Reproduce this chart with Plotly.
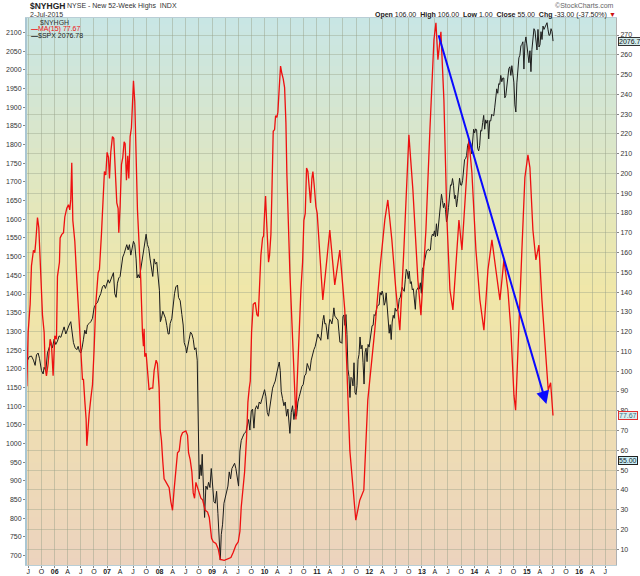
import pandas as pd
import plotly.graph_objects as go

# ---------------- data ----------------
# $SPX (black line, left axis) 2005-07 .. 2011-01, x as decimal years
spx_year_a = [
    2005.468, 2005.513, 2005.557, 2005.595, 2005.627, 2005.653, 2005.684, 2005.710, 2005.748, 2005.780,
    2005.799, 2005.831, 2005.862, 2005.894, 2005.926, 2005.958, 2005.989, 2006.021, 2006.053, 2006.085,
    2006.117, 2006.148, 2006.180, 2006.212, 2006.244, 2006.276, 2006.307, 2006.333, 2006.358, 2006.390,
    2006.422, 2006.447, 2006.473, 2006.498, 2006.523, 2006.549, 2006.574, 2006.600, 2006.625, 2006.657,
    2006.689, 2006.721, 2006.752, 2006.784, 2006.816, 2006.848, 2006.879, 2006.911, 2006.943, 2006.968,
    2006.994, 2007.019, 2007.045, 2007.070, 2007.096, 2007.121, 2007.146, 2007.172, 2007.197, 2007.223,
    2007.248, 2007.274, 2007.299, 2007.325, 2007.350, 2007.375, 2007.401, 2007.426, 2007.452, 2007.477,
    2007.503, 2007.528, 2007.553, 2007.572, 2007.592, 2007.617, 2007.642, 2007.668, 2007.693, 2007.719,
    2007.744, 2007.770, 2007.795, 2007.820, 2007.846, 2007.871, 2007.897, 2007.922, 2007.947, 2007.973,
    2007.998, 2008.017, 2008.037, 2008.062, 2008.087, 2008.113, 2008.138, 2008.164,
]
spx_value_a = [
    1218, 1232, 1234, 1223, 1209, 1237, 1242, 1228, 1195, 1186,
    1204, 1195, 1242, 1260, 1270, 1256, 1279, 1265, 1274, 1288,
    1284, 1298, 1312, 1293, 1307, 1317, 1326, 1298, 1270, 1256,
    1251, 1260, 1246, 1242, 1256, 1279, 1303, 1293, 1317, 1321,
    1326, 1335, 1363, 1373, 1377, 1391, 1401, 1419, 1424, 1415,
    1429, 1438, 1429, 1438, 1447, 1457, 1401, 1391, 1429, 1443,
    1447, 1475, 1499, 1508, 1522, 1532, 1518, 1532, 1504, 1522,
    1541, 1532, 1494, 1443, 1452, 1443, 1466, 1485, 1504, 1527,
    1560, 1532, 1522, 1494, 1475, 1447, 1494, 1480, 1485, 1447,
    1410, 1326, 1335, 1354, 1345, 1335, 1316, 1293,
]
spx_year_b = [
    2008.183, 2008.202, 2008.234, 2008.259, 2008.285, 2008.310, 2008.342, 2008.361, 2008.393, 2008.425,
    2008.450, 2008.469, 2008.501, 2008.514, 2008.539, 2008.564, 2008.590, 2008.615, 2008.641, 2008.666,
    2008.692, 2008.717, 2008.730, 2008.742, 2008.755, 2008.774, 2008.793, 2008.812, 2008.831, 2008.857,
    2008.882, 2008.908, 2008.933, 2008.959, 2008.984, 2009.009, 2009.035, 2009.060, 2009.086, 2009.111,
    2009.137, 2009.156, 2009.175, 2009.200, 2009.226, 2009.251, 2009.276, 2009.302, 2009.327, 2009.353,
    2009.378, 2009.404, 2009.429, 2009.454, 2009.480, 2009.505, 2009.531, 2009.556, 2009.582, 2009.613,
    2009.645, 2009.671, 2009.696, 2009.721, 2009.747, 2009.772, 2009.798, 2009.823, 2009.849, 2009.874,
    2009.899, 2009.925, 2009.950, 2009.976, 2010.001, 2010.027, 2010.052, 2010.077, 2010.103, 2010.128,
    2010.154, 2010.179, 2010.205, 2010.230, 2010.255, 2010.281, 2010.300, 2010.319, 2010.344, 2010.370,
    2010.395, 2010.421, 2010.446, 2010.472, 2010.484, 2010.510, 2010.535, 2010.561, 2010.586, 2010.611,
    2010.637, 2010.662, 2010.688, 2010.713, 2010.739, 2010.764, 2010.790, 2010.815, 2010.840, 2010.866,
    2010.891, 2010.917, 2010.942, 2010.968, 2010.993, 2011.018, 2011.037,
]
spx_value_b = [
    1293, 1321, 1335, 1373, 1401, 1419, 1424, 1391, 1382, 1345,
    1317, 1270, 1256, 1242, 1265, 1279, 1298, 1293, 1279, 1251,
    1256, 1223, 1111, 980, 905, 943, 914, 971, 905, 802,
    886, 877, 896, 882, 933, 877, 844, 840, 872, 812,
    718, 688, 756, 784, 840, 858, 872, 886, 924, 905,
    933, 943, 947, 933, 914, 886, 980, 1008, 1017, 1027,
    1031, 1050, 1064, 1036, 1087, 1092, 1041, 1092, 1101, 1092,
    1111, 1106, 1120, 1130, 1144, 1125, 1083, 1073, 1101, 1120,
    1148, 1158, 1167, 1186, 1200, 1218, 1195, 1139, 1120, 1101,
    1111, 1073, 1092, 1055, 1027, 1083, 1101, 1064, 1092, 1073,
    1111, 1125, 1139, 1153, 1158, 1181, 1186, 1214, 1204, 1195,
    1223, 1242, 1251, 1260, 1279, 1293, 1284,
]
# weekly closes from 21-Jan-2011 to 2-Jul-2015
spx_weekly_start = "2011-01-21"
spx_weekly_close = [
    1283, 1276, 1310, 1329, 1343, 1320, 1321, 1304, 1279, 1314, 1332, 1328, 1320, 1337, 1363, 1340, 1338,
    1333, 1331, 1300, 1271, 1271, 1268, 1339, 1344, 1316, 1345, 1292, 1199, 1179, 1123, 1177, 1174, 1154,
    1216, 1136, 1131, 1155, 1224, 1238, 1285, 1253, 1263, 1216, 1159, 1244, 1255, 1219, 1265, 1258,
    1278, 1289, 1315, 1316, 1345, 1342, 1361, 1366, 1370, 1371, 1404, 1397, 1408, 1398, 1370, 1378, 1403,
    1369, 1353, 1295, 1318, 1278, 1325, 1343, 1335, 1362, 1354, 1357, 1362, 1386, 1391, 1406, 1418, 1411,
    1407, 1438, 1466, 1460, 1441, 1461, 1428, 1433, 1411, 1414, 1380, 1359, 1409, 1416, 1418, 1413, 1430, 1402,
    1466, 1472, 1486, 1503, 1513, 1518, 1520, 1516, 1518, 1551, 1560, 1556, 1569, 1553, 1588, 1555, 1582,
    1614, 1633, 1667, 1650, 1631, 1643, 1626, 1593, 1606, 1632, 1680, 1692, 1691, 1709, 1691, 1655, 1664,
    1633, 1655, 1688, 1710, 1692, 1691, 1703, 1745, 1760, 1762, 1771, 1798, 1805, 1806, 1805, 1775, 1818, 1841,
    1831, 1842, 1839, 1790, 1783, 1797, 1838, 1836, 1859, 1878, 1841, 1866, 1857, 1865, 1815, 1864, 1863,
    1881, 1878, 1877, 1900, 1924, 1949, 1937, 1963, 1961, 1985, 1968, 1978, 1978, 1925, 1931, 1955, 1988,
    2003, 2008, 1985, 2011, 1983, 1967, 1906, 1887, 1965, 2018, 2032, 2039, 2064, 2068, 2075, 2002, 2071, 2088,
    2058, 2044, 2019, 2051, 1995, 2055, 2097, 2110, 2104, 2071, 2053, 2108, 2061, 2067, 2102, 2081, 2117,
    2108, 2116, 2123, 2126, 2107, 2092, 2094, 2110, 2102, 2076.78,
]

# $NYHGH MA(15) (red line, right axis), x as decimal years
ma_year_a = [
    2005.468, 2005.494, 2005.532, 2005.557, 2005.595, 2005.621, 2005.640, 2005.672, 2005.697, 2005.723,
    2005.767, 2005.799, 2005.818, 2005.843, 2005.875, 2005.913, 2005.939, 2005.970, 2006.002, 2006.034,
    2006.053, 2006.091, 2006.104, 2006.136, 2006.168, 2006.193, 2006.231, 2006.263, 2006.288, 2006.307,
    2006.326, 2006.346, 2006.384, 2006.422, 2006.454, 2006.498, 2006.530, 2006.549, 2006.574, 2006.600,
    2006.613, 2006.638, 2006.657, 2006.689, 2006.721, 2006.752, 2006.784, 2006.829, 2006.854, 2006.892,
    2006.924, 2006.949, 2006.975, 2007.000, 2007.026, 2007.045, 2007.070, 2007.102, 2007.127, 2007.153,
    2007.185, 2007.210, 2007.223, 2007.248, 2007.274, 2007.299, 2007.325, 2007.344, 2007.369, 2007.394,
    2007.414, 2007.439, 2007.464, 2007.483, 2007.503, 2007.528, 2007.553, 2007.579, 2007.611, 2007.642,
    2007.674, 2007.693, 2007.706, 2007.719, 2007.744, 2007.770, 2007.801, 2007.833, 2007.871, 2007.897,
    2007.935, 2007.960, 2007.992, 2008.011, 2008.037, 2008.062, 2008.087, 2008.126, 2008.164,
]
ma_value_a = [
    92.4, 119.7, 133.9, 153.3, 161.2, 160.0, 165.7, 177.7, 172.7, 155.1,
    128.6, 119.7, 102.1, 97.7, 103.8, 116.2, 113.6, 97.7, 118.0, 116.2,
    148.0, 155.1, 167.4, 169.2, 170.1, 178.0, 182.4, 184.2, 181.6, 186.9,
    205.4, 176.3, 165.7, 146.2, 128.6, 110.9, 95.9, 95.9, 85.3, 75.6,
    62.3, 75.6, 78.2, 86.2, 93.2, 110.9, 133.9, 149.8, 151.5, 169.2,
    190.4, 201.0, 199.2, 210.7, 208.1, 197.5, 210.7, 218.6, 217.8, 204.5,
    185.1, 182.4, 170.1, 183.3, 204.5, 208.1, 216.0, 215.1, 196.6, 208.9,
    197.5, 218.6, 223.1, 234.5, 246.9, 236.3, 208.1, 181.6, 163.9, 146.2,
    119.7, 112.7, 121.5, 107.4, 109.1, 102.1, 90.6, 91.5, 91.5, 100.3,
    105.6, 103.8, 91.5, 71.2, 65.0, 54.4, 45.6, 43.8, 42.0,
]
ma_year_b = [
    2008.183, 2008.215, 2008.247, 2008.278, 2008.310, 2008.342, 2008.374, 2008.405, 2008.437, 2008.469,
    2008.501, 2008.533, 2008.552, 2008.583, 2008.615, 2008.641, 2008.666, 2008.692, 2008.717, 2008.755,
    2008.787, 2008.819, 2008.870, 2008.914, 2008.946, 2008.971, 2008.990, 2009.022, 2009.073, 2009.117,
    2009.156, 2009.232, 2009.295, 2009.359, 2009.404, 2009.454, 2009.499, 2009.531, 2009.556, 2009.582,
    2009.620, 2009.658, 2009.683, 2009.709, 2009.728, 2009.753, 2009.785, 2009.823, 2009.855, 2009.880,
    2009.899, 2009.931, 2009.963, 2009.982, 2010.001, 2010.020, 2010.039, 2010.058, 2010.077, 2010.096,
    2010.122, 2010.141, 2010.166, 2010.192, 2010.211, 2010.236, 2010.255, 2010.281, 2010.306, 2010.332,
    2010.357, 2010.383, 2010.408, 2010.427, 2010.452, 2010.484, 2010.503, 2010.529, 2010.554, 2010.573,
    2010.599, 2010.618, 2010.643, 2010.669, 2010.694, 2010.726, 2010.751, 2010.777, 2010.802, 2010.827,
    2010.853, 2010.878, 2010.904, 2010.923, 2010.948, 2010.980, 2011.005, 2011.037,
]
ma_value_b = [
    41.1, 34.1, 29.7, 40.3, 49.1, 58.8, 59.7, 66.8, 68.9, 69.4,
    69.8, 67.6, 58.8, 55.3, 49.1, 38.5, 35.8, 43.8, 41.1, 38.5,
    35.8, 35.0, 29.7, 28.8, 26.1, 20.0, 15.5, 13.8, 12.9, 10.2,
    4.9, 4.4, 4.9, 5.8, 8.5, 12.0, 13.8, 19.1, 31.4, 38.5,
    49.1, 66.8, 84.4, 91.5, 95.0, 119.7, 133.9, 134.8, 128.6, 127.7,
    142.7, 158.6, 167.4, 168.3, 179.8, 188.6, 176.3, 163.9, 155.1, 158.6,
    169.2, 190.4, 221.3, 222.2, 229.2, 228.4, 231.0, 243.4, 254.3, 250.4,
    247.8, 243.4, 225.7, 199.2, 172.7, 149.8, 137.4, 119.7, 102.1, 84.4,
    75.6, 91.5, 109.1, 128.6, 140.9, 155.1, 176.3, 179.8, 202.8, 201.0,
    192.2, 185.1, 197.5, 201.0, 193.9, 183.3, 179.8, 165.7,
]
ma_year_c = [
    2011.112, 2011.245, 2011.340, 2011.436, 2011.531, 2011.627, 2011.741, 2011.817, 2011.894, 2011.970,
    2012.103, 2012.199, 2012.294, 2012.351, 2012.428, 2012.504, 2012.580, 2012.656, 2012.752, 2012.828,
    2012.923, 2012.981, 2013.076, 2013.152, 2013.229, 2013.267, 2013.305, 2013.362, 2013.419, 2013.477,
    2013.534, 2013.591, 2013.648, 2013.706, 2013.763, 2013.839, 2013.896, 2013.953, 2014.030, 2014.106,
    2014.182, 2014.259, 2014.335, 2014.411, 2014.488, 2014.564, 2014.640, 2014.697, 2014.755, 2014.787,
    2014.812, 2014.850, 2014.907, 2014.964, 2015.022, 2015.060, 2015.117, 2015.174, 2015.231, 2015.289,
    2015.346, 2015.409, 2015.455, 2015.500,
]
ma_value_c = [
    136.0, 171.4, 143.6, 161.3, 131.0, 60.1, 24.7, 34.8, 39.9, 85.4,
    120.8, 151.2, 176.5, 186.6, 166.4, 141.1, 120.8, 161.3, 219.5, 191.7,
    146.1, 128.4, 171.4, 222.0, 267.6, 276.2, 257.5, 271.6, 237.2, 176.5,
    141.1, 131.0, 151.2, 176.5, 161.3, 191.7, 217.0, 200.5, 161.3, 136.0,
    120.8, 151.2, 166.4, 151.2, 136.0, 156.3, 141.1, 120.8, 87.9, 80.3,
    95.5, 120.8, 161.3, 198.0, 209.4, 203.0, 171.4, 156.3, 163.8, 136.0,
    113.2, 90.5, 94.2, 77.67,
]

x_tick_labels = ["J", "O", "06", "A", "J", "O", "07", "A", "J", "O", "08", "A", "J", "O", "09",
                 "A", "J", "O", "10", "A", "J", "O", "11", "A", "J", "O", "12", "A", "J", "O",
                 "13", "A", "J", "O", "14", "A", "J", "O", "15", "A", "J", "O", "16", "A", "J"]
x_tick_first = "2005-07-01"
last_spx = 2076.78
last_ma = 77.67
last_close = 55.00
ohlc_text = ("<b>Open</b> 106.00&nbsp; <b>High</b> 106.00&nbsp; <b>Low</b> 1.00&nbsp; "
             "<b>Close</b> 55.00&nbsp; <b>Chg</b> -33.00 (-37.50%) ")
arrow_from = (2013.31, 270.6)   # (decimal year, MA value)
arrow_to = (2015.374, 83.4)
x_range_years = (2005.472, 2016.700)
left_range = (674.8, 2138.6)
right_range = (2.05, 278.6)


def yr(t):
    y = int(t)
    s = pd.Timestamp(year=y, month=1, day=1)
    e = pd.Timestamp(year=y + 1, month=1, day=1)
    return s + (e - s) * (t - y)


spx_x = [yr(t) for t in spx_year_a + spx_year_b] + list(
    pd.date_range(spx_weekly_start, periods=len(spx_weekly_close), freq="W-FRI"))
spx_y = spx_value_a + spx_value_b + spx_weekly_close
ma_x = [yr(t) for t in ma_year_a + ma_year_b + ma_year_c]
ma_y = ma_value_a + ma_value_b + ma_value_c

tick_dates = pd.date_range(x_tick_first, periods=len(x_tick_labels), freq="QS")
tick_text = [("<b>%s</b>" % s) if s.isdigit() else s for s in x_tick_labels]

FONT = "Liberation Sans, Arial, sans-serif"

fig = go.Figure()
fig.add_trace(go.Scatter(x=spx_x, y=spx_y, mode="lines", name="$SPX",
                         line=dict(color="#1c1c1c", width=1), yaxis="y"))
fig.add_trace(go.Scatter(x=ma_x, y=ma_y, mode="lines", name="MA(15)",
                         line=dict(color="#ee1010", width=1.3), yaxis="y2"))

# background gradient (teal -> yellow -> peach)
stops = [(0.0, (236, 211, 190)), (0.5, (240, 231, 168)), (1.0, (200, 230, 229))]


def grad(p):
    for (p0, c0), (p1, c1) in zip(stops[:-1], stops[1:]):
        if p0 <= p <= p1:
            f = (p - p0) / (p1 - p0)
            return "rgb(%d,%d,%d)" % tuple(round(a + (b - a) * f) for a, b in zip(c0, c1))
    return "rgb(%d,%d,%d)" % stops[-1][1]


N = 80
shapes = []
for i in range(N):
    shapes.append(dict(type="rect", xref="paper", yref="paper", x0=0, x1=1,
                       y0=i / N, y1=(i + 1) / N + 0.002, layer="below",
                       fillcolor=grad((i + 0.5) / N), line=dict(width=0)))

ann = []
ann.append(dict(xref="paper", yref="paper", x=0.001, y=1.0225, xanchor="left", yanchor="middle",
                text="<b>$NYHGH</b>", showarrow=False, font=dict(size=8.5, color="#222", family=FONT)))
ann.append(dict(xref="paper", yref="paper", x=0.064, y=1.0215, xanchor="left", yanchor="middle",
                text="NYSE - New 52-Week Highs&nbsp; INDX", showarrow=False,
                font=dict(size=7, color="#333", family=FONT)))
ann.append(dict(xref="paper", yref="paper", x=0.001, y=1.006, xanchor="left", yanchor="middle",
                text="2-Jul-2015", showarrow=False, font=dict(size=7, color="#333", family=FONT)))
ann.append(dict(xref="paper", yref="paper", x=1.0, y=1.0225, xanchor="right", yanchor="middle",
                text="©StockCharts.com", showarrow=False, font=dict(size=7, color="#666", family=FONT)))
ann.append(dict(xref="paper", yref="paper", x=1.003, y=1.006, xanchor="right", yanchor="middle",
                text=ohlc_text + "<span style='color:#cc1111'>▼</span>", showarrow=False,
                font=dict(size=7, color="#222", family=FONT)))
# legend block
ann.append(dict(xref="paper", yref="paper", x=0.018, y=0.991, xanchor="left", yanchor="middle",
                text="$NYHGH", showarrow=False, font=dict(size=7, color="#333", family=FONT)))
ann.append(dict(xref="paper", yref="paper", x=0.003, y=0.9793, xanchor="left", yanchor="middle",
                text="<b>—</b>MA(15) %.2f" % last_ma, showarrow=False,
                font=dict(size=7, color="#ee1010", family=FONT)))
ann.append(dict(xref="paper", yref="paper", x=0.003, y=0.9676, xanchor="left", yanchor="middle",
                text="<b>—</b>$SPX %.2f" % last_spx, showarrow=False,
                font=dict(size=7, color="#222", family=FONT)))
# last-value boxes on the right
ann.append(dict(xref="paper", yref="y", x=1.003, y=last_spx, xanchor="left", yanchor="middle",
                text="%.2f" % last_spx, showarrow=False, bgcolor="#d3ecec", bordercolor="#333",
                borderwidth=1, borderpad=0, font=dict(size=7, color="#111", family=FONT)))
ann.append(dict(xref="paper", yref="y2", x=1.003, y=last_ma, xanchor="left", yanchor="middle",
                text="%.2f" % last_ma, showarrow=False, bgcolor="#d9eef0", bordercolor="#e03030",
                borderwidth=1, borderpad=0, font=dict(size=7, color="#3b6f80", family=FONT)))
ann.append(dict(xref="paper", yref="y2", x=1.003, y=last_close, xanchor="left", yanchor="middle",
                text="%.2f" % last_close, showarrow=False, bgcolor="#c8eef8", bordercolor="#222",
                borderwidth=1, borderpad=0, font=dict(size=7, color="#222", family=FONT)))
# blue trend arrow
ann.append(dict(xref="x", yref="y2", axref="x", ayref="y2",
                x=yr(arrow_to[0]), y=arrow_to[1], ax=yr(arrow_from[0]), ay=arrow_from[1],
                text="", showarrow=True, arrowhead=2, arrowsize=1.3, arrowwidth=2,
                arrowcolor="#0a0aff", standoff=0, startstandoff=0))

fig.update_layout(
    width=640, height=576,
    margin=dict(l=27, r=24, t=18, b=11),
    paper_bgcolor="white", plot_bgcolor="rgba(0,0,0,0)",
    showlegend=False,
    font=dict(family=FONT, size=7, color="#333"),
    shapes=shapes, annotations=ann,
    xaxis=dict(type="date", range=[yr(x_range_years[0]), yr(x_range_years[1])],
               tickvals=list(tick_dates), ticktext=tick_text, tickangle=0,
               showgrid=True, gridcolor="rgba(150,160,135,0.45)", gridwidth=1,
               ticks="outside", ticklen=2, tickcolor="#888", ticklabelstandoff=-2,
               showline=True, mirror=True, linecolor="#b9ced6", linewidth=1,
               tickfont=dict(size=7, color="#222"), zeroline=False, automargin=False),
    yaxis=dict(range=list(left_range), tick0=700, dtick=50, showgrid=False,
               ticks="outside", ticklen=2, tickcolor="#888",
               showline=True, linecolor="#aac6d2", linewidth=2,
               tickfont=dict(size=7, color="#333"), zeroline=False, automargin=False),
    yaxis2=dict(range=list(right_range), tick0=10, dtick=10, overlaying="y", side="right",
                showgrid=True, gridcolor="rgba(150,160,135,0.40)", gridwidth=1,
                ticks="outside", ticklen=2, tickcolor="#888",
                showline=True, linecolor="#b0b0b0", linewidth=1,
                tickfont=dict(size=7, color="#333"), zeroline=False, automargin=False),
)

fig.write_html("out.html", config={"displayModeBar": False},
               post_script="document.body.style.margin='0';document.body.style.overflow='hidden';")
